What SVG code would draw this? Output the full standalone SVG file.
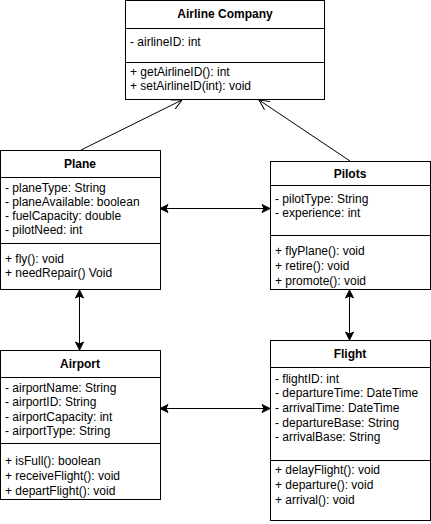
<svg xmlns="http://www.w3.org/2000/svg" width="431" height="524" viewBox="0 0 431 524">
<defs>
<style>
.box{fill:#fff;stroke:#000;stroke-width:1}
.sep{stroke:#000;stroke-width:1}
.t{font-family:"Liberation Sans",Arial,sans-serif;font-size:12px;font-weight:bold;text-anchor:middle;fill:#000}
.a{font-family:"Liberation Sans",Arial,sans-serif;font-size:12px;fill:#000}
.c{stroke:#000;stroke-width:1;fill:none}
</style>
<marker id="open" viewBox="0 0 12 12" refX="11" refY="6" markerWidth="12" markerHeight="12" markerUnits="userSpaceOnUse" orient="auto">
<path d="M1,1 L11,6 L1,11" fill="none" stroke="#000" stroke-width="1"/>
</marker>
<marker id="fill" viewBox="0 0 10 10" refX="9" refY="5" markerWidth="10" markerHeight="10" markerUnits="userSpaceOnUse" orient="auto-start-reverse">
<path d="M1,1 L9,5 L1,9 L3,5 Z" fill="#000" stroke="#000" stroke-width="1"/>
</marker>
</defs>
<rect width="431" height="524" fill="#fff"/>
<g id="connectors">
<line class="c" x1="81" y1="150" x2="182" y2="100" marker-end="url(#open)"/>
<line class="c" x1="350" y1="161" x2="259" y2="100" marker-end="url(#open)"/>
<line class="c" x1="160" y1="208.5" x2="270" y2="208.5" marker-start="url(#fill)" marker-end="url(#fill)"/>
<line class="c" x1="79.5" y1="290" x2="79.5" y2="350" marker-start="url(#fill)" marker-end="url(#fill)"/>
<line class="c" x1="349.5" y1="290" x2="349.5" y2="340" marker-start="url(#fill)" marker-end="url(#fill)"/>
<line class="c" x1="160" y1="408.5" x2="270" y2="408.5" marker-start="url(#fill)" marker-end="url(#fill)"/>
</g>
<g id="airline">
<rect class="box" x="125.5" y="0.5" width="199" height="99"/>
<line class="sep" x1="125.5" y1="28.5" x2="324.5" y2="28.5"/>
<line class="sep" x1="125.5" y1="62.5" x2="324.5" y2="62.5"/>
<text class="t" x="225" y="18">Airline Company</text>
<text class="a" x="130" y="46">- airlineID: int</text>
<text class="a" x="130" y="76">+ getAirlineID(): int</text>
<text class="a" x="130" y="90">+ setAirlineID(int): void</text>
</g>
<g id="plane">
<rect class="box" x="0.5" y="150.5" width="160" height="139"/>
<line class="sep" x1="0.5" y1="177.5" x2="160.5" y2="177.5"/>
<line class="sep" x1="0.5" y1="243.5" x2="160.5" y2="243.5"/>
<text class="t" x="80" y="168">Plane</text>
<text class="a" x="5" y="192">- planeType: String</text>
<text class="a" x="5" y="206">- planeAvailable: boolean</text>
<text class="a" x="5" y="220">- fuelCapacity: double</text>
<text class="a" x="5" y="234">- pilotNeed: int</text>
<text class="a" x="5" y="263">+ fly(): void</text>
<text class="a" x="5" y="277">+ needRepair() Void</text>
</g>
<g id="pilots">
<rect class="box" x="270.5" y="161.5" width="160" height="128"/>
<line class="sep" x1="270.5" y1="185.5" x2="430.5" y2="185.5"/>
<line class="sep" x1="270.5" y1="235.5" x2="430.5" y2="235.5"/>
<text class="t" x="350" y="178">Pilots</text>
<text class="a" x="275" y="203">- pilotType: String</text>
<text class="a" x="275" y="217">- experience: int</text>
<text class="a" x="275" y="255">+ flyPlane(): void</text>
<text class="a" x="275" y="270">+ retire(): void</text>
<text class="a" x="275" y="285">+ promote(): void</text>
</g>
<g id="airport">
<rect class="box" x="0.5" y="350.5" width="160" height="149"/>
<line class="sep" x1="0.5" y1="377.5" x2="160.5" y2="377.5"/>
<line class="sep" x1="0.5" y1="443.5" x2="160.5" y2="443.5"/>
<text class="t" x="80" y="368">Airport</text>
<text class="a" x="5" y="392">- airportName: String</text>
<text class="a" x="5" y="406">- airportID: String</text>
<text class="a" x="5" y="421">- airportCapacity: int</text>
<text class="a" x="5" y="435">- airportType: String</text>
<text class="a" x="5" y="465">+ isFull(): boolean</text>
<text class="a" x="5" y="480">+ receiveFlight(): void</text>
<text class="a" x="5" y="495">+ departFlight(): void</text>
</g>
<g id="flight">
<rect class="box" x="270.5" y="340.5" width="160" height="180"/>
<line class="sep" x1="270.5" y1="367.5" x2="430.5" y2="367.5"/>
<line class="sep" x1="270.5" y1="460.5" x2="430.5" y2="460.5"/>
<text class="t" x="350" y="358">Flight</text>
<text class="a" x="275" y="383">- flightID: int</text>
<text class="a" x="275" y="397">- departureTime: DateTime</text>
<text class="a" x="275" y="412">- arrivalTime: DateTime</text>
<text class="a" x="275" y="427">- departureBase: String</text>
<text class="a" x="275" y="441">- arrivalBase: String</text>
<text class="a" x="275" y="474">+ delayFlight(): void</text>
<text class="a" x="275" y="489">+ departure(): void</text>
<text class="a" x="275" y="504">+ arrival(): void</text>
</g>
</svg>
